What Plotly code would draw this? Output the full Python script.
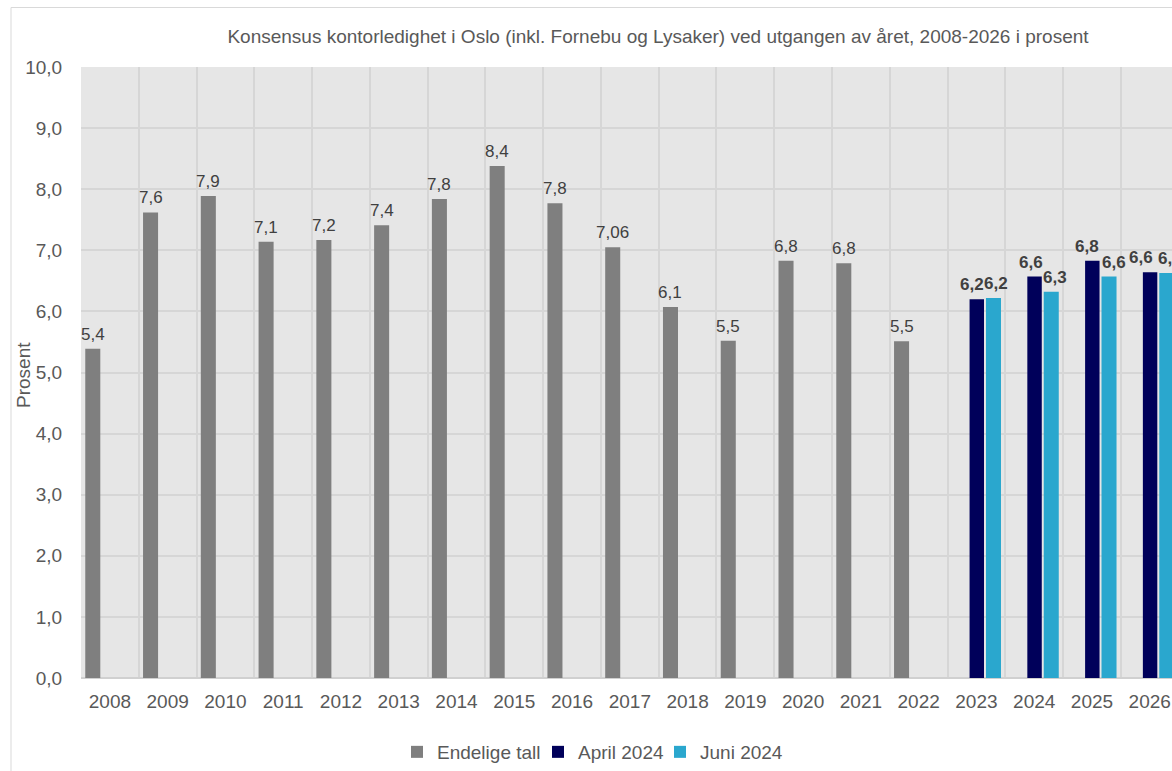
import plotly.graph_objects as go

# ---- data ----
final_years = [2008, 2009, 2010, 2011, 2012, 2013, 2014, 2015, 2016, 2017, 2018, 2019, 2020, 2021, 2022]
final_vals = [5.39, 7.62, 7.89, 7.14, 7.17, 7.41, 7.84, 8.38, 7.77, 7.05, 6.07, 5.52, 6.83, 6.79, 5.51]
final_labels = ["5,4", "7,6", "7,9", "7,1", "7,2", "7,4", "7,8", "8,4", "7,8", "7,06", "6,1", "5,5", "6,8", "6,8", "5,5"]

forecast_years = [2023, 2024, 2025, 2026]
april_vals = [6.20, 6.57, 6.83, 6.64]
april_labels = ["6,2", "6,6", "6,8", "6,6"]
juni_vals = [6.22, 6.32, 6.57, 6.63]
juni_labels = ["6,2", "6,3", "6,6", "6,6"]

all_years = list(range(2008, 2027))
y_ticks = [0, 1, 2, 3, 4, 5, 6, 7, 8, 9, 10]
y_tick_labels = ["0,0", "1,0", "2,0", "3,0", "4,0", "5,0", "6,0", "7,0", "8,0", "9,0", "10,0"]

title_text = "Konsensus kontorledighet i Oslo (inkl. Fornebu og Lysaker) ved utgangen av året, 2008-2026 i prosent"

# ---- style ----
FONT = "Liberation Sans, Arial, sans-serif"
GRAY = "#7F7F7F"
NAVY = "#00005A"
LIGHT = "#2AA7CE"
LABEL_COL = "#404040"
TICK_COL = "#595959"

W, H = 1172, 771
L, R, T = 81, 0, 67
plot_h = 611
B = H - T - plot_h
plot_w = W - L - R
cat_px = 57.77

# label horizontal nudges (px), like the spread-out labels in the original
gray_shift = [0] * len(final_years)
april_shift = [-5, -4, -5, -9]
juni_shift = [3, 4, 5, 3]

series = [
    # name, legend id, legend left (px), x, y, labels, color, width, offset, bold, label xshifts
    ("Endelige tall", "legend", 397, final_years, final_vals, final_labels, GRAY, 0.26, -0.426, False, gray_shift),
    ("April 2024", "legend2", 538, forecast_years, april_vals, april_labels, NAVY, 0.25, -0.119, True, april_shift),
    ("Juni 2024", "legend3", 660, forecast_years, juni_vals, juni_labels, LIGHT, 0.26, 0.165, True, juni_shift),
]

fig = go.Figure()
annotations = []
legends = {}
for name, leg, leg_px, xs, ys, labels, color, w, off, bold, shifts in series:
    fig.add_trace(go.Bar(
        x=xs, y=ys, name=name, legend=leg,
        marker=dict(color=color, line=dict(width=0)),
        width=w, offset=off,
    ))
    legends[leg] = dict(
        orientation="h", x=(leg_px - L) / plot_w, xanchor="left",
        y=(plot_h - (752 - T)) / plot_h, yanchor="middle",
        font=dict(family=FONT, size=19, color=TICK_COL),
        bgcolor="rgba(0,0,0,0)", borderwidth=0,
    )
    for xv, yv, lab, xsh in zip(xs, ys, labels, shifts):
        annotations.append(dict(
            x=xv + off + w / 2, y=yv, xref="x", yref="y",
            text=f"<b>{lab}</b>" if bold else lab,
            showarrow=False, xanchor="center", yanchor="bottom",
            yshift=4, xshift=xsh, borderpad=0,
            font=dict(family=FONT, size=17, color=LABEL_COL),
        ))

annotations.append(dict(
    text="Prosent", textangle=-90, xref="paper", yref="paper",
    x=(24 - L) / plot_w, y=0.496, xanchor="center", yanchor="middle",
    showarrow=False, font=dict(family=FONT, size=19, color=TICK_COL),
))

fig.update_layout(
    width=W, height=H,
    margin=dict(l=L, r=R, t=T, b=B, pad=0, autoexpand=False),
    paper_bgcolor="white",
    plot_bgcolor="#E6E6E6",
    barmode="overlay",
    font=dict(family=FONT, color=TICK_COL),
    showlegend=True,
    title=dict(
        text=title_text, x=658 / W, xanchor="center", xref="container",
        y=1 - 36 / H, yanchor="middle", yref="container",
        font=dict(family=FONT, size=19, color=TICK_COL),
    ),
    xaxis=dict(
        range=[2007.5, 2007.5 + plot_w / cat_px],
        tickmode="array", tickvals=all_years, ticktext=[str(y) for y in all_years],
        tickfont=dict(family=FONT, size=19, color=TICK_COL),
        ticks="outside", ticklen=6, tickcolor="rgba(0,0,0,0)",
        showgrid=False, zeroline=False, showline=False, automargin=False,
        minor=dict(tick0=2007.5, dtick=1, showgrid=True, gridcolor="#D6D6D6", gridwidth=2, ticks=""),
        fixedrange=True,
    ),
    yaxis=dict(
        range=[0, 10], tickmode="array", tickvals=y_ticks, ticktext=y_tick_labels,
        tickfont=dict(family=FONT, size=19, color=TICK_COL),
        ticks="outside", ticklen=14, tickcolor="rgba(0,0,0,0)",
        showgrid=True, gridcolor="#D6D6D6", gridwidth=2,
        zeroline=True, zerolinecolor="#D0D0D0", zerolinewidth=2,
        automargin=False, fixedrange=True,
    ),
    annotations=annotations,
    shapes=[dict(
        type="rect", xref="paper", yref="paper",
        x0=(11 - L) / plot_w, x1=1.2, y0=-0.2, y1=(plot_h + T - 7.5) / plot_h,
        line=dict(color="#D9D9D9", width=1), fillcolor="rgba(0,0,0,0)", layer="below",
    )],
    **legends,
)

fig.write_html(
    "out.html",
    config={"displayModeBar": False},
    post_script="document.body.style.margin='0';document.body.style.overflow='hidden';",
)
